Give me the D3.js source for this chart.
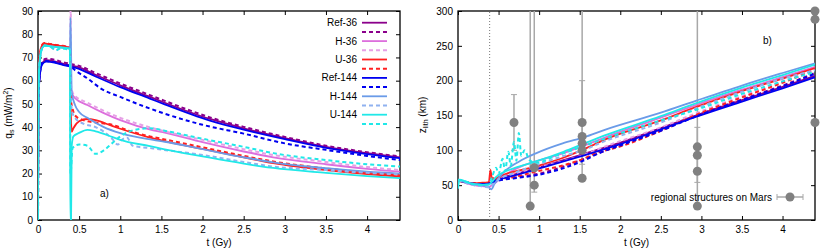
<!DOCTYPE html>
<html>
<head>
<meta charset="utf-8">
<script src="https://cdn.jsdelivr.net/npm/d3@7"></script>
<style>
  body { margin: 0; background: #fff; }
  svg { display: block; font-family: "Liberation Sans", Arial, sans-serif; }
  .tick text { font-size: 10px; fill: #000; }
</style>
</head>
<body>
<div id="chart"></div>
<script>
// ---- data (t in Gy) ----
var tTicks = [0, 0.5, 1, 1.5, 2, 2.5, 3, 3.5, 4];
var qTicks = [0, 10, 20, 30, 40, 50, 60, 70, 80, 90];
var zTicks = [0, 50, 100, 150, 200, 250, 300];

// panel a) surface heat flow q_s (mW/m2)
var qRef36 = [[0,0],[0.005,52],[0.02,62],[0.05,67.5],[0.1,68.8],[0.2,68.3],[0.3,67.3],[0.4,66.5],[0.47,66],[0.7,62.5],[1.0,58],[1.36,53],[1.54,50.5],[2.09,43.5],[2.5,39.5],[3,35.3],[3.5,31.5],[4,28.8],[4.4,27]];
var qRef36d = [[0,0],[0.005,53],[0.02,63],[0.05,68.2],[0.1,69.4],[0.2,69],[0.3,68],[0.4,67.2],[0.47,66.7],[0.7,63.3],[1.0,58.8],[1.36,53.8],[1.54,51.3],[2.09,44.2],[2.5,40.1],[3,35.8],[3.5,32],[4,29.2],[4.4,27.4]];
var qH36 = [[0,0],[0.005,55],[0.02,69],[0.05,74.8],[0.08,75.8],[0.15,75.5],[0.25,75],[0.35,74.6],[0.39,74.2],[0.4,56],[0.42,54],[0.45,52.5],[0.6,49.5],[0.8,46],[1.0,43],[1.4,38.6],[1.54,37.6],[2,33.5],[2.5,29.5],[2.86,27],[3.5,24],[4,22],[4.4,20.8]];
var qH36d = [[0,0],[0.005,55],[0.02,69],[0.05,75],[0.08,76],[0.15,75.6],[0.25,75.2],[0.35,74.7],[0.39,74.3],[0.398,95],[0.402,58],[0.42,55],[0.45,53.5],[0.6,50.5],[0.8,47],[1.0,44],[1.4,39.5],[2,34.5],[2.5,30.5],[2.86,28],[3.5,25],[4,22.8],[4.4,21.5]];
var qU36 = [[0,0],[0.005,56],[0.02,70],[0.05,75.2],[0.08,76],[0.15,75.6],[0.25,75.1],[0.35,74.5],[0.39,74],[0.4,45],[0.41,38],[0.43,39.5],[0.5,42.5],[0.6,43.5],[0.7,43],[0.9,40.5],[1.0,39.3],[1.36,35.5],[1.54,34],[2,30.6],[2.5,27],[2.86,24.5],[3.5,21.5],[4,19.8],[4.4,18.8]];
var qU36d = [[0,0],[0.005,56],[0.02,70],[0.05,75.4],[0.08,76.2],[0.15,75.8],[0.25,75.2],[0.35,74.6],[0.39,74.2],[0.4,52],[0.42,48],[0.45,45],[0.55,43],[0.7,42],[0.9,41],[1.1,38.5],[1.36,36],[1.54,34.7],[2,31.3],[2.5,27.6],[2.86,25.2],[3.5,22.2],[4,20.5],[4.4,19.4]];
var qRef144 = [[0,0],[0.005,51],[0.02,61.5],[0.05,67],[0.1,68.2],[0.2,67.8],[0.3,66.8],[0.4,66],[0.47,65.4],[0.7,61.8],[1.0,57.2],[1.36,52.3],[1.54,49.8],[2.09,42.8],[2.5,38.9],[3,34.8],[3.5,31.1],[4,28.4],[4.4,26.6]];
var qRef144d = [[0,0],[0.005,52],[0.02,62],[0.05,67.5],[0.1,68.5],[0.2,68],[0.3,67],[0.4,66],[0.45,64.5],[0.6,61],[0.77,56.5],[1.0,53],[1.36,48],[1.54,45.8],[2.0,41],[2.5,37.2],[3,33],[3.5,30.2],[4,27.6],[4.4,25.8]];
var qH144 = [[0,0],[0.005,54],[0.02,68],[0.05,74],[0.08,75],[0.15,74.8],[0.25,74.4],[0.35,74],[0.39,73.8],[0.395,87],[0.41,55],[0.45,49.5],[0.5,46.5],[0.6,44],[0.8,40],[1.0,37.4],[1.4,34.5],[1.54,33.7],[2,30.5],[2.5,27],[2.86,24.8],[3.5,22.3],[4,20.8],[4.4,20]];
var qH144d = [[0,0],[0.005,54],[0.02,68],[0.05,74],[0.08,75],[0.15,74.6],[0.22,73],[0.27,74.2],[0.35,73.8],[0.39,73.5],[0.4,52],[0.42,46],[0.45,44],[0.55,41.5],[0.7,40],[0.8,38],[0.9,35],[0.97,32.5],[1.02,34.5],[1.08,35.5],[1.15,32],[1.4,30.8],[2,28],[2.5,25],[2.86,23],[3.5,21.5],[4,20.3],[4.4,19.7]];
var qU144 = [[0,0],[0.005,54],[0.02,68],[0.05,74],[0.08,75],[0.15,74.8],[0.25,74.4],[0.35,74],[0.388,73.8],[0.392,0],[0.402,0],[0.41,32],[0.43,36],[0.5,37.5],[0.6,38.8],[0.7,38.2],[0.9,35.8],[1.0,34.5],[1.36,31.8],[1.54,30.4],[2,27.4],[2.5,24.3],[2.86,22.4],[3.5,20.3],[4,18.9],[4.4,18]];
var qU144d = [[0,0],[0.005,54],[0.02,68],[0.05,74],[0.08,75.2],[0.15,74.6],[0.22,73.2],[0.28,74],[0.35,73.5],[0.388,73.2],[0.395,20],[0.42,31],[0.5,32.5],[0.6,32],[0.7,28.5],[0.8,30],[0.9,33],[1.0,36],[1.2,39],[1.36,39.5],[1.6,38],[2,35],[2.5,31.5],[2.86,28.8],[3.5,25.8],[4,24],[4.4,23]];

// panel b) lithosphere thickness z_lith (km)
var zRef36 = [[0,57],[0.1,54],[0.2,52],[0.3,51.5],[0.4,53.5],[0.45,57],[0.7,65.5],[1.0,75.5],[1.5,93],[2.0,111],[2.5,132],[2.93,150],[3.5,172],[4.0,191],[4.4,207]];
var zRef36d = [[0,57],[0.1,54],[0.2,52.5],[0.3,52],[0.4,52.5],[0.45,55.5],[0.7,61],[1.0,66.5],[1.56,88],[2.0,108],[2.5,129],[2.93,149.5],[3.5,173],[4,193],[4.4,211]];
var zH36 = [[0,57],[0.1,53],[0.2,50],[0.3,48.5],[0.38,47.5],[0.42,50],[0.55,62],[0.8,78],[0.96,84],[1.3,96],[1.56,107],[1.8,118],[2.5,147],[2.93,165],[3.5,187],[4,205],[4.4,220]];
var zH36d = [[0,57],[0.1,53],[0.2,50],[0.3,48.5],[0.38,48],[0.42,52],[0.6,62],[0.96,74],[1.56,94],[1.8,105],[2.5,133],[2.93,153],[3.5,178],[4,199],[4.4,217]];
var zU36 = [[0,56],[0.1,54],[0.2,53],[0.3,53.5],[0.38,54],[0.4,72],[0.42,58],[0.55,64.5],[0.96,77],[1.29,89],[1.56,102],[1.8,115],[2.5,143],[2.93,162],[3.5,185],[4,203],[4.4,218]];
var zU36d = [[0,57],[0.1,54],[0.2,53],[0.3,53],[0.38,54],[0.41,60],[0.55,60],[0.96,69.5],[1.56,88.5],[1.74,98],[1.86,101],[2.5,128],[2.93,150.7],[3.5,176],[4,197],[4.4,215.5]];
var zRef144 = [[0,57],[0.1,54],[0.2,52],[0.3,51.5],[0.4,53],[0.45,56],[0.7,64],[1.0,74],[1.5,91],[2.0,109],[2.5,130],[2.93,148],[3.5,170],[4.0,189],[4.4,205]];
var zRef144d = [[0,57],[0.1,54],[0.2,52],[0.3,51.5],[0.4,52],[0.45,55],[0.7,60],[1.0,65],[1.56,86],[1.74,96],[2.0,107],[2.5,128],[2.93,148.5],[3.5,172],[4,192],[4.4,210]];
var zH144 = [[0,57],[0.1,54],[0.2,52],[0.3,50],[0.38,47],[0.41,44],[0.45,52],[0.55,67],[0.75,83.7],[0.96,95.7],[1.29,110],[1.56,119],[1.8,129],[2.5,154],[2.93,171],[3.5,193],[4,211],[4.4,225]];
var zH144d = [[0,57],[0.1,53],[0.2,50],[0.3,48.5],[0.38,47],[0.42,50],[0.5,58],[0.7,68],[1.0,80],[1.3,92],[1.56,101],[1.74,110],[2.5,140],[2.93,160],[3.5,184],[4,203],[4.4,215]];
var zU144 = [[0,45],[0.02,58],[0.1,55],[0.2,51],[0.3,50.5],[0.38,51],[0.42,55],[0.47,62],[0.75,76.5],[0.96,84],[1.3,98],[1.56,110],[1.8,121],[2.5,149],[2.93,167.5],[3.5,190],[4,208],[4.4,223]];
var zU144d = [[0,58],[0.1,55],[0.2,51.5],[0.3,50.5],[0.38,51],[0.42,62],[0.47,75],[0.5,66],[0.55,88],[0.58,70],[0.62,98],[0.65,78],[0.69,112],[0.72,85],[0.75,125],[0.78,92],[0.82,100],[0.88,86],[0.96,82],[1.2,92],[1.5,104],[1.74,114],[2.5,143],[2.93,158],[3.5,181],[4,199],[4.4,212.5]];

// regional structures on Mars: t, z, error low, error high
var marsT  = [0.69, 0.89, 0.94, 0.94, 1.53, 1.53, 1.53, 1.53, 1.53, 2.95, 2.95, 2.95, 2.95, 4.4, 4.4, 4.4];
var marsZ  = [140,  20,   50,   75,   140,  120,  110,  100,  60,   105,  93,   70,   20,   300, 288, 140];
var marsLo = [100,  20,   40,   75,   80,   120,  110,  100,  60,   105,  93,   54,   20,   300, 288, 140];
var marsHi = [180,  330,  82,   330,  200,  120,  110,  100,  330,  105,  93,   133,  330,  300, 288, 140];

var seriesNames = ["Ref-36", "H-36", "U-36", "Ref-144", "H-144", "U-144"];
var seriesColors = ["#8b008b", "#dd6fdd", "#ff2020", "#0000f0", "#6a9be8", "#20e8e8"];
var dashedColors = ["#8b008b", "#e6a0e6", "#ff2020", "#0000f0", "#90b2f0", "#20e8e8"];

var qSolid = [qRef36, qH36, qU36, qRef144, qH144, qU144];
var qDashed = [qRef36d, qH36d, qU36d, qRef144d, qH144d, qU144d];
var zSolid = [zRef36, zH36, zU36, zRef144, zH144, zU144];
var zDashed = [zRef36d, zH36d, zU36d, zRef144d, zH144d, zU144d];

// ---- drawing ----
var W = 830, H = 249;
var svg = d3.select("#chart").append("svg").attr("width", W).attr("height", H);

function makePanel(id, box, yDomain, yTicks) {
	var x = d3.scaleLinear().domain([0, 4.4]).range([box.left, box.right]);
	var y = d3.scaleLinear().domain(yDomain).range([box.bottom, box.top]);
	var g = svg.append("g").attr("class", id);

	g.append("clipPath").attr("id", "clip-" + id)
		.append("rect")
		.attr("x", box.left).attr("y", box.top)
		.attr("width", box.right - box.left).attr("height", box.bottom - box.top);

	// inward ticks on all four sides
	g.append("g").attr("transform", "translate(0," + box.bottom + ")")
		.call(d3.axisBottom(x).tickValues(tTicks).tickSize(-4).tickPadding(6).tickFormat(d3.format("")));
	g.append("g").attr("transform", "translate(0," + box.top + ")")
		.call(d3.axisTop(x).tickValues(tTicks).tickSize(-4).tickFormat(""));
	g.append("g").attr("transform", "translate(" + box.left + ",0)")
		.call(d3.axisLeft(y).tickValues(yTicks).tickSize(-4).tickPadding(5));
	g.append("g").attr("transform", "translate(" + box.right + ",0)")
		.call(d3.axisRight(y).tickValues(yTicks).tickSize(-4).tickFormat(""));
	g.selectAll(".domain").remove();
	g.selectAll(".tick line").attr("stroke", "#000");

	g.append("rect")
		.attr("x", box.left).attr("y", box.top)
		.attr("width", box.right - box.left).attr("height", box.bottom - box.top)
		.attr("fill", "none").attr("stroke", "#000").attr("stroke-width", 1.3);

	g.append("text")
		.attr("x", (box.left + box.right) / 2).attr("y", 246)
		.attr("text-anchor", "middle").attr("font-size", 10)
		.text("t (Gy)");

	return { x: x, y: y, g: g, plot: g.append("g").attr("clip-path", "url(#clip-" + id + ")") };
}

function drawCurves(p, solid, dashed) {
	var line = d3.line()
		.x(function(d) { return p.x(d[0]); })
		.y(function(d) { return p.y(d[1]); })
		.curve(d3.curveMonotoneX);
	for (var i = 0; i < solid.length; i++) {
		p.plot.append("path").datum(solid[i])
			.attr("d", line).attr("fill", "none")
			.attr("stroke", seriesColors[i]).attr("stroke-width", 1.8);
		p.plot.append("path").datum(dashed[i])
			.attr("d", line).attr("fill", "none")
			.attr("stroke", dashedColors[i]).attr("stroke-width", 2)
			.attr("stroke-dasharray", "4,3");
	}
}

// panel a)
var pa = makePanel("pa", { left: 38, right: 400, top: 11, bottom: 220 }, [0, 90], qTicks);
drawCurves(pa, qSolid, qDashed);

pa.g.append("text").attr("x", 100).attr("y", 197).attr("font-size", 10).text("a)");

var qLabel = pa.g.append("text")
	.attr("transform", "translate(12,113) rotate(-90)")
	.attr("text-anchor", "middle").attr("font-size", 10);
qLabel.append("tspan").text("q");
qLabel.append("tspan").attr("font-size", 7).attr("dy", 2).text("s");
qLabel.append("tspan").attr("dy", -2).text(" (mW/m");
qLabel.append("tspan").attr("font-size", 7).attr("dy", -4).text("2");
qLabel.append("tspan").attr("dy", 4).text(")");

// legend a)
var legend = pa.g.append("g");
seriesNames.forEach(function(name, i) {
	var y0 = 22.7 + i * 18.4;
	legend.append("text").attr("x", 357).attr("y", y0 + 3.5)
		.attr("text-anchor", "end").attr("font-size", 10).text(name);
	legend.append("line").attr("x1", 362).attr("x2", 387).attr("y1", y0).attr("y2", y0)
		.attr("stroke", seriesColors[i]).attr("stroke-width", 1.8);
	legend.append("line").attr("x1", 362).attr("x2", 387).attr("y1", y0 + 9.2).attr("y2", y0 + 9.2)
		.attr("stroke", dashedColors[i]).attr("stroke-width", 2).attr("stroke-dasharray", "4,3");
});

// panel b)
var pb = makePanel("pb", { left: 458, right: 815, top: 11, bottom: 220 }, [0, 300], zTicks);

pb.plot.append("line")
	.attr("x1", pb.x(0.39)).attr("x2", pb.x(0.39))
	.attr("y1", pb.y(0)).attr("y2", pb.y(300))
	.attr("stroke", "#777").attr("stroke-width", 1).attr("stroke-dasharray", "1,2");

// error bars (clipped), then curves, then points
var errs = pb.plot.append("g");
marsT.forEach(function(t, i) {
	if (marsHi[i] === marsLo[i]) return;
	var xx = pb.x(t);
	errs.append("line").attr("x1", xx).attr("x2", xx)
		.attr("y1", pb.y(marsLo[i])).attr("y2", pb.y(marsHi[i]))
		.attr("stroke", "#a8a8a8").attr("stroke-width", 1.5);
	[marsLo[i], marsHi[i]].forEach(function(v) {
		if (v === marsZ[i]) return;
		errs.append("line").attr("x1", xx - 3).attr("x2", xx + 3)
			.attr("y1", pb.y(v)).attr("y2", pb.y(v))
			.attr("stroke", "#a8a8a8").attr("stroke-width", 1);
	});
});

drawCurves(pb, zSolid, zDashed);

pb.g.selectAll("circle.mars").data(marsT).enter().append("circle")
	.attr("class", "mars")
	.attr("cx", function(d) { return pb.x(d); })
	.attr("cy", function(d, i) { return pb.y(marsZ[i]); })
	.attr("r", 4.5).attr("fill", "#808080");

pb.g.append("text").attr("x", 763).attr("y", 44).attr("font-size", 10).text("b)");

var zLabel = pb.g.append("text")
	.attr("transform", "translate(426,115) rotate(-90)")
	.attr("text-anchor", "middle").attr("font-size", 10);
zLabel.append("tspan").text("z");
zLabel.append("tspan").attr("font-size", 7).attr("dy", 2).text("lith");
zLabel.append("tspan").attr("dy", -2).text(" (km)");

// legend b)
pb.g.append("text").attr("x", 772).attr("y", 200.5)
	.attr("text-anchor", "end").attr("font-size", 10).text("regional structures on Mars");
pb.g.append("line").attr("x1", 777).attr("x2", 803).attr("y1", 197).attr("y2", 197)
	.attr("stroke", "#a8a8a8").attr("stroke-width", 1.5);
[777, 803].forEach(function(xx) {
	pb.g.append("line").attr("x1", xx).attr("x2", xx).attr("y1", 194).attr("y2", 200)
		.attr("stroke", "#a8a8a8").attr("stroke-width", 1);
});
pb.g.append("circle").attr("cx", 790).attr("cy", 197).attr("r", 4.5).attr("fill", "#808080");
</script>
</body>
</html>
